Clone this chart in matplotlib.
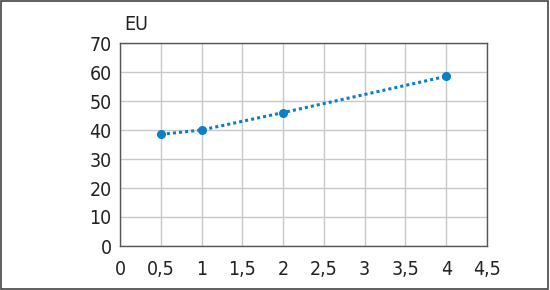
import matplotlib.pyplot as plt
from matplotlib.patches import Rectangle

# данные
x_vals = [0.5, 1, 2, 4]
eu_vals = [38.5, 40, 46, 58.5]
x_ticks = [0, 0.5, 1, 1.5, 2, 2.5, 3, 3.5, 4, 4.5]
x_labels = ['0', '0,5', '1', '1,5', '2', '2,5', '3', '3,5', '4', '4,5']
y_ticks = [0, 10, 20, 30, 40, 50, 60, 70]

plt.rcParams['font.family'] = ['DejaVu Sans']
plt.rcParams['font.stretch'] = 'condensed'

fig = plt.figure(figsize=(5.5, 2.9), dpi=100)
ax = fig.add_axes([120 / 550, 1 - 246 / 290, 367 / 550, 203 / 290])

ax.plot(x_vals, eu_vals, color='#0a7fc6', linestyle=(0, (1, 1)), linewidth=2.2,
        marker='o', markersize=5.5, zorder=3)

ax.set_xlim(0, 4.5)
ax.set_ylim(0, 70)
ax.set_xticks(x_ticks)
ax.set_xticklabels(x_labels)
ax.set_yticks(y_ticks)
ax.grid(True, color='#c8c8c8', linewidth=1)
ax.tick_params(length=0, labelsize=14, colors='#222222')
ax.tick_params(axis='x', pad=10)
ax.tick_params(axis='y', pad=6)
for s in ax.spines.values():
    s.set_color('#555555')
    s.set_linewidth(1)

fig.text(124 / 550, 1 - 24 / 290, 'EU', fontsize=14, color='#222222', va='center')

# рамка вокруг рисунка
fig.patches.append(Rectangle((0.001, 0.002), 0.996, 0.995, transform=fig.transFigure,
                             fill=False, edgecolor='#444444', linewidth=1.2))

fig.savefig('out.png', dpi=100)
